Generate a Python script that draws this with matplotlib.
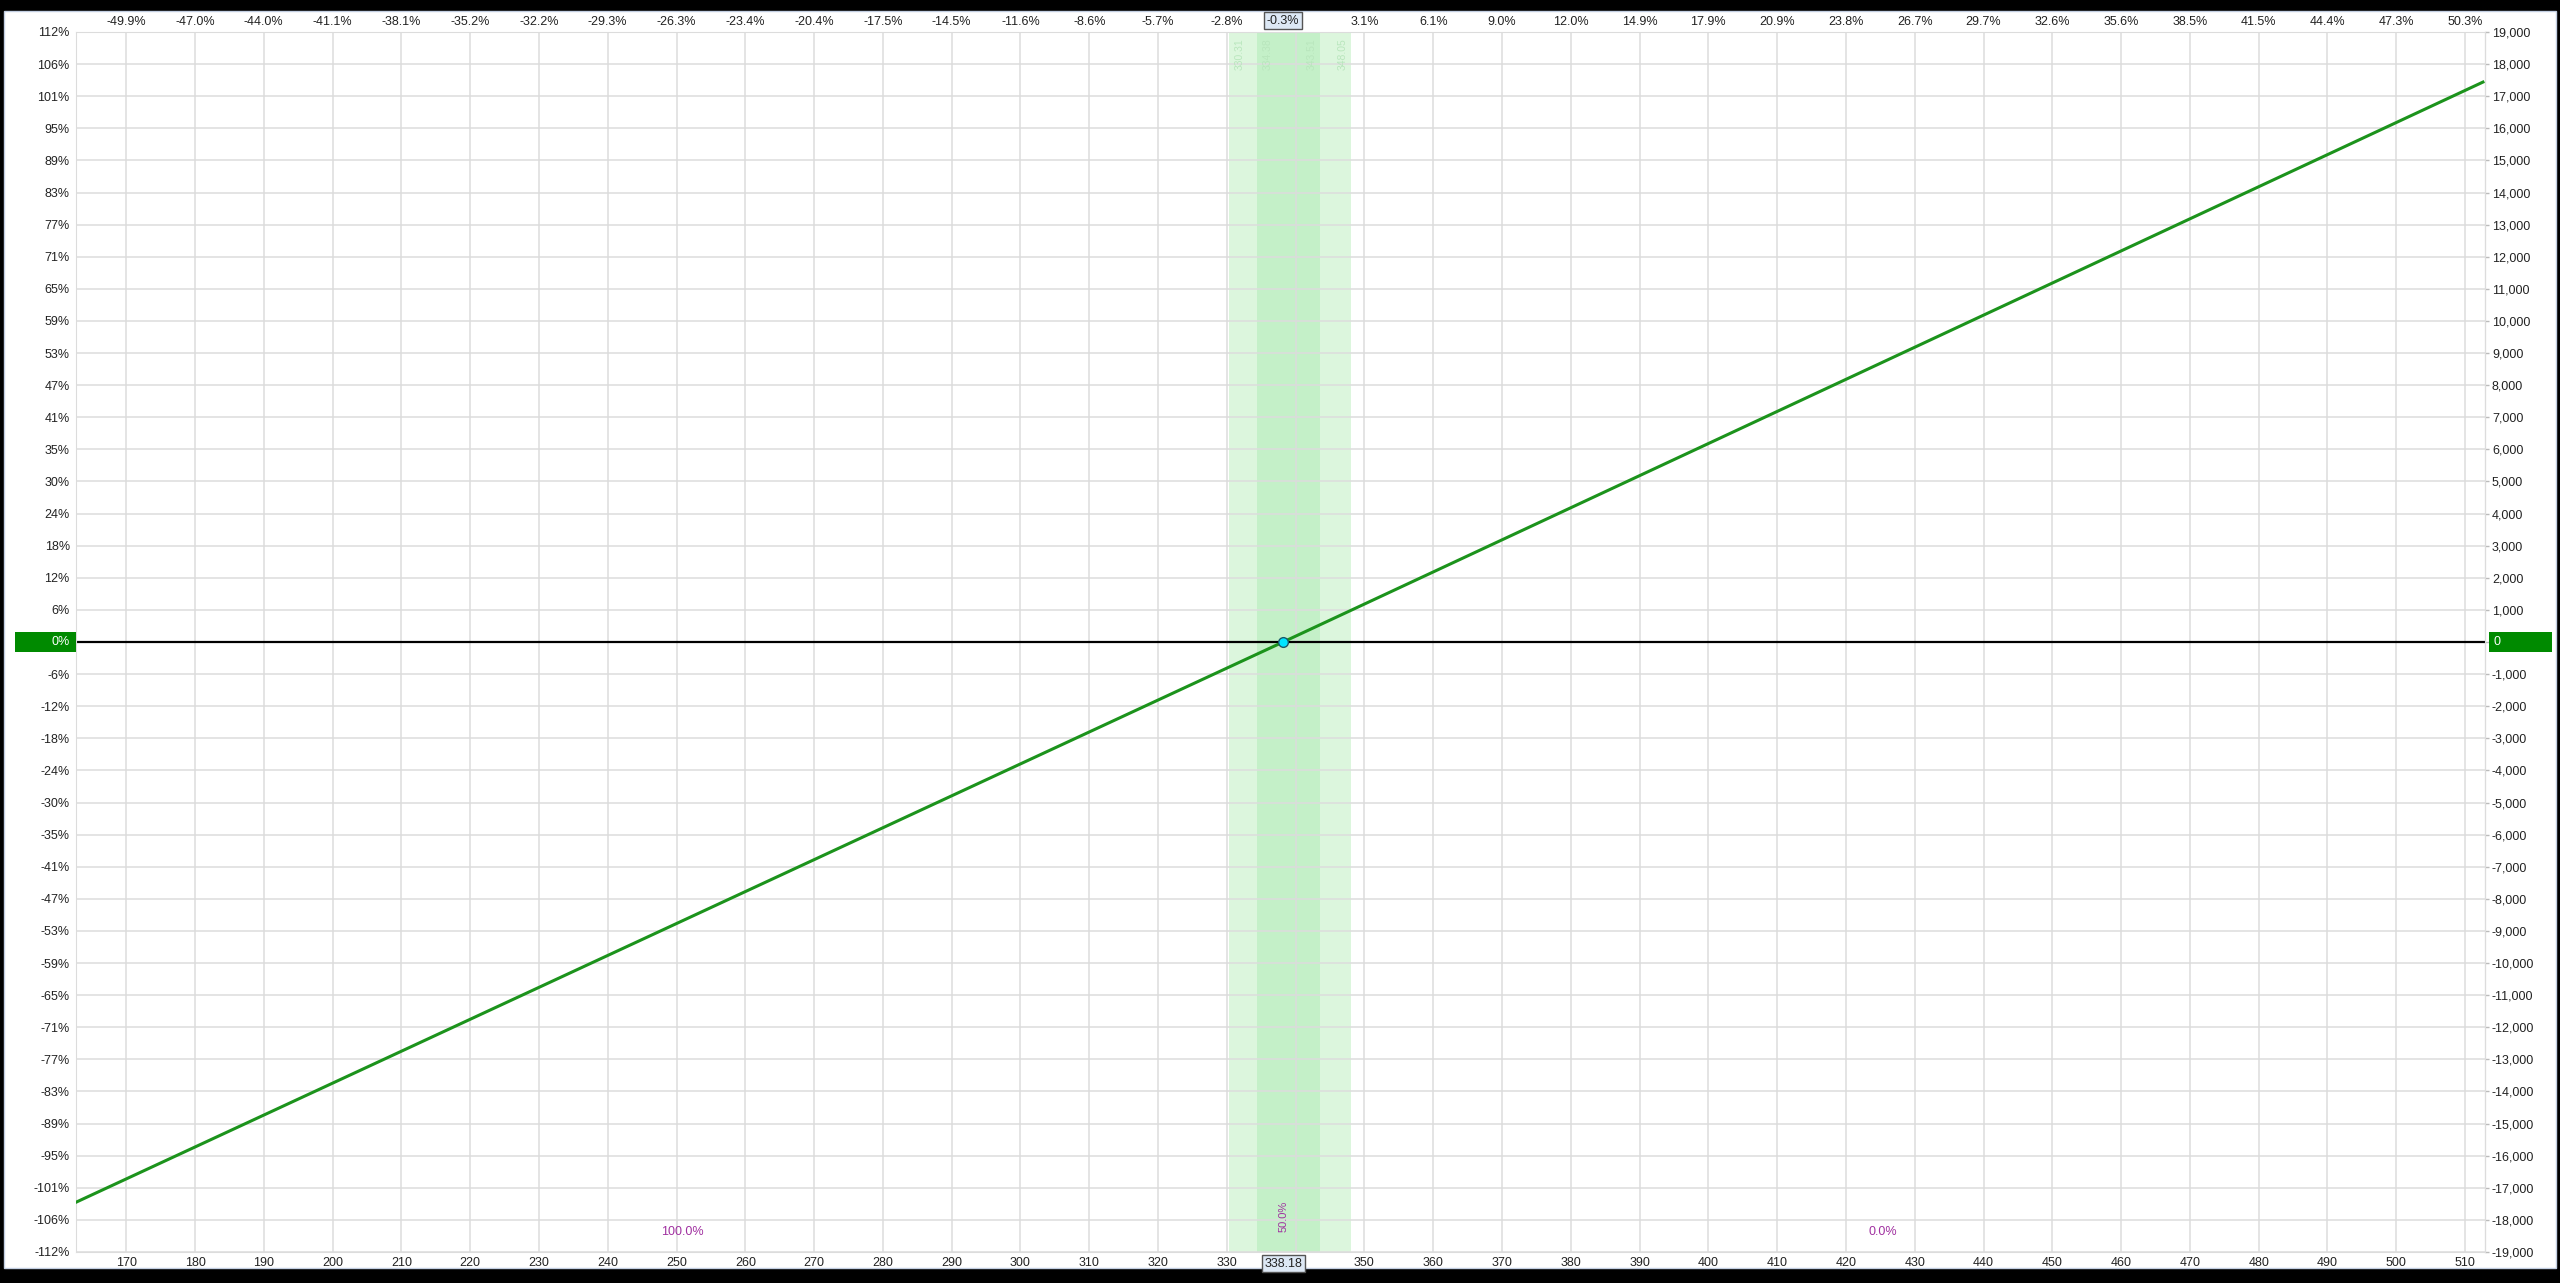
import matplotlib
matplotlib.use('Agg')
import matplotlib.pyplot as plt
import matplotlib.transforms as mtransforms
from matplotlib.patches import Rectangle

plt.rcParams['font.family'] = ['Liberation Sans', 'DejaVu Sans']

# underlying price axis (bottom) and % change from reference (top)
price_ticks = list(range(170, 511, 10))
top_pct_labels = ['-49.9%', '-47.0%', '-44.0%', '-41.1%', '-38.1%', '-35.2%', '-32.2%',
                  '-29.3%', '-26.3%', '-23.4%', '-20.4%', '-17.5%', '-14.5%', '-11.6%',
                  '-8.6%', '-5.7%', '-2.8%', '0.2%', '3.1%', '6.1%', '9.0%', '12.0%',
                  '14.9%', '17.9%', '20.9%', '23.8%', '26.7%', '29.7%', '32.6%', '35.6%',
                  '38.5%', '41.5%', '44.4%', '47.3%', '50.3%']

# P/L axis (right) and return % (left), bottom to top
pnl_ticks = list(range(-19000, 19001, 1000))
pct_up = ['6%', '12%', '18%', '24%', '30%', '35%', '41%', '47%', '53%', '59%',
          '65%', '71%', '77%', '83%', '89%', '95%', '101%', '106%', '112%']
pct_labels = ['-' + p for p in pct_up[::-1]] + ['0%'] + pct_up

# position P/L line (100 shares)
line_price = [162.7, 338.18, 512.6]
line_pnl = [-17450, 0, 17440]
current_price = 338.18
current_label = '338.18'
current_pct = '-0.3%'

# expected-move bands
band_outer = (330.31, 348.05)
band_inner = (334.38, 343.51)
band_edge_labels = ['330.31', '334.38', '343.51', '348.05']

# probability labels
prob_price = [250.9, 425.4]
prob_text = ['100.0%', '0.0%']
prob_mid = '50.0%'

W, H = 2560, 1283
fig = plt.figure(figsize=(W / 100, H / 100), dpi=100, facecolor='black')
fig.add_artist(Rectangle((4 / W, 15 / H), (W - 8) / W, (H - 26) / H,
                         transform=fig.transFigure, facecolor='white',
                         edgecolor='#c3cfe2', lw=1, zorder=0))

ax = fig.add_axes([76 / W, 1 - 1252 / H, (2485 - 76) / W, (1252 - 32) / H])
ax.set_facecolor('white')
ax.set_xlim(162.7, 512.9)
ax.set_ylim(-19000, 19000)

# the tick hidden under the current-price box gets no label
hidden = 340
ax.set_xticks(price_ticks)
ax.set_xticklabels(['' if p == hidden else str(p) for p in price_ticks])
ax.set_yticks(pnl_ticks)
ax.set_yticklabels(['' if p == '0%' else p for p in pct_labels])
ax.tick_params(axis='both', length=0, labelsize=9, colors='#222222')
ax.tick_params(axis='x', pad=3.5)
ax.tick_params(axis='y', pad=4.5)
ax.grid(True, color='#dcdcdc', lw=1.1)
ax.set_axisbelow(True)
for s in ax.spines.values():
    s.set_color('#dcdcdc')

top = ax.secondary_xaxis('top')
top.set_xticks(price_ticks, labels=['' if p == hidden else s
                                    for p, s in zip(price_ticks, top_pct_labels)])
top.tick_params(length=0, pad=3, labelsize=9, colors='#222222')
top.spines['top'].set_visible(False)

right = ax.secondary_yaxis('right')
right.set_yticks(pnl_ticks, labels=['' if v == 0 else f'{v:,}' for v in pnl_ticks])
right.tick_params(length=3, width=1, color='#bbbbbb', pad=2, labelsize=9, labelcolor='#222222')
right.spines['right'].set_color('#c8c8c8')

# bands
ax.axvspan(*band_outer, color='#dcf6dd', lw=0, zorder=0.2)
ax.axvspan(*band_inner, color='#c4f0c8', lw=0, zorder=0.3)
edges = [band_outer[0], band_inner[0], band_inner[1], band_outer[1]]
offs = [1.6, 1.6, -1.2, -1.2]
btr = mtransforms.blended_transform_factory(ax.transData, ax.transAxes)
for x, o, s in zip(edges, offs, band_edge_labels):
    ax.text(x + o, 0.995, s, transform=btr, rotation=90, ha='center', va='top',
            fontsize=7.5, color='#b9e6bd', zorder=1)

ax.axhline(0, color='black', lw=1.6, zorder=2)
ax.plot(line_price, line_pnl, color='#1c931c', lw=2.2, zorder=3)
ax.plot([current_price], [0], 'o', ms=7, mfc='#00e5ff', mec='#1a5a6a', mew=1, zorder=4)

for x, s in zip(prob_price, prob_text):
    ax.text(x, -18375, s, color='#a030a0', ha='center', va='center', fontsize=9)
ax.text(current_price, -17900, prob_mid, color='#a030a0', ha='center', va='center',
        rotation=90, fontsize=8)

# current price markers on the top/bottom axes
box = dict(boxstyle='square,pad=0.2', fc='#dde8f5', ec='#555555', lw=1)
ax.annotate(current_pct, xy=(current_price, 1), xycoords=('data', 'axes fraction'),
            xytext=(0, 8), textcoords='offset points', ha='center', va='center',
            fontsize=9, color='#222222', bbox=box, zorder=10, annotation_clip=False)
ax.annotate(current_label, xy=(current_price, 0), xycoords=('data', 'axes fraction'),
            xytext=(0, -8.5), textcoords='offset points', ha='center', va='center',
            fontsize=9, color='#222222', bbox=box, zorder=10, annotation_clip=False)

# zero markers on the side axes
ytr = mtransforms.blended_transform_factory(fig.transFigure, ax.transData)
ax.add_patch(Rectangle((15 / W, -300), 61 / W, 600, transform=ytr, fc='#008a00',
                       ec='none', clip_on=False, zorder=10))
ax.text(70 / W, 0, '0%', transform=ytr, ha='right', va='center', color='white',
        fontsize=9, zorder=11, clip_on=False)
ax.add_patch(Rectangle((2489 / W, -300), 63 / W, 600, transform=ytr, fc='#008a00',
                       ec='none', clip_on=False, zorder=10))
ax.text(2493 / W, 0, '0', transform=ytr, ha='left', va='center', color='white',
        fontsize=9, zorder=11, clip_on=False)

fig.savefig('out.png', dpi=100, facecolor=fig.get_facecolor())
